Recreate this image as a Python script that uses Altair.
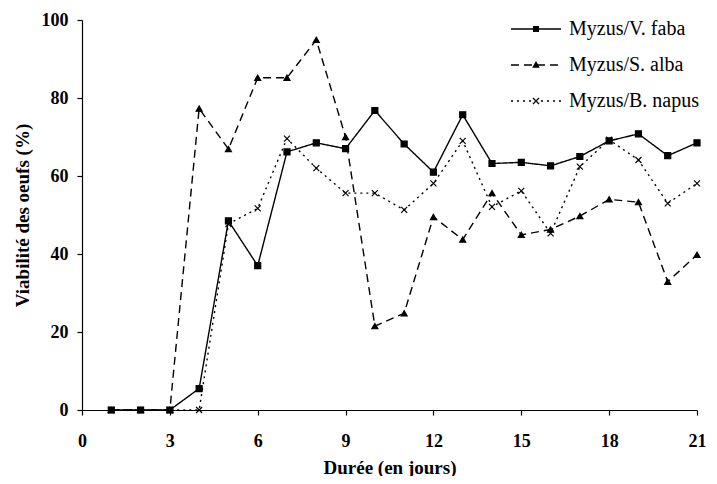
import altair as alt
import pandas as pd

days = list(range(1, 22))
series_names = ["Myzus/V. faba", "Myzus/S. alba", "Myzus/B. napus"]
marker_keys = ["m_faba", "m_alba", "m_napus"]
faba = [0, 0, 0, 5.5, 48.5, 37, 66.2, 68.5, 67, 76.8, 68.2, 61, 75.7, 63.2, 63.5, 62.6, 65, 69, 70.8, 65.2, 68.5]
alba = [0, 0, 0, 77.3, 66.9, 85.2, 85.2, 94.9, 70, 21.5, 24.8, 49.5, 43.7, 55.6, 44.9, 46.3, 49.7, 54, 53.3, 32.9, 39.8]
napus = [0, 0, 0, 0, 47.7, 51.7, 69.6, 62, 55.6, 55.6, 51.3, 58.1, 69, 52.1, 56.2, 45.3, 62.4, 69.3, 64.1, 53, 58.1]

rows = []
for name, mk, vals in zip(series_names, marker_keys, [faba, alba, napus]):
    for d, v in zip(days, vals):
        rows.append({"day": d, "value": v, "series": name, "marker": mk})
df = pd.DataFrame(rows)

FONT = "Liberation Serif, Times New Roman, Times, serif"

# legend marker symbols (drawn on top of the dash legend's lines, same layout)
LEG_FABA = "M-0.12,-0.12H0.12V0.12H-0.12Z"
LEG_ALBA = "M0,-0.16L0.15,0.11L-0.15,0.11Z"
LEG_NAPUS = ("M-0.102,-0.138L0.138,0.102L0.102,0.138L-0.138,-0.102Z"
             "M0.102,-0.138L-0.138,0.102L-0.102,0.138L0.138,-0.102Z")
MARKERS = ["square", "triangle-up", "M-1,-1L1,1M-1,1L1,-1"]

common = dict(title=None, orient="none", legendX=428, legendY=-17,
              symbolSize=2500, symbolStrokeWidth=1.3,
              labelFont=FONT, labelFontSize=20, labelFontWeight="normal",
              labelOffset=7, rowPadding=0, padding=0)

dash_legend = alt.Legend(symbolType="stroke", symbolStrokeColor="black",
                         labelColor="black", **common)
marker_legend = alt.Legend(symbolFillColor="black", symbolStrokeColor="black",
                           labelColor="transparent", **common)

x_enc = alt.X("day:Q", scale=alt.Scale(domain=[0, 21], nice=False, zero=False),
              axis=alt.Axis(values=list(range(0, 22, 3)), title="Durée (en jours)",
                            grid=False, tickSize=5, labelPadding=17, titlePadding=8,
                            labelFlush=False))
y_enc = alt.Y("value:Q", scale=alt.Scale(domain=[0, 100], nice=False),
              axis=alt.Axis(values=list(range(0, 101, 20)), title="Viabilité des oeufs (%)",
                            grid=False, tickSize=5, labelPadding=9, titlePadding=9,
                            labelFlush=False))

lines = alt.Chart(df).mark_line(color="black", strokeWidth=1.4).encode(
    x=x_enc, y=y_enc,
    strokeDash=alt.StrokeDash("series:N",
        scale=alt.Scale(domain=series_names, range=[[1, 0], [8, 5], [2, 4]]),
        legend=dash_legend),
    detail="series:N",
)

# empty layer that only supplies the legend markers
legend_layer = alt.Chart(df).transform_filter("datum.day > 1000").mark_point(
    fill="black", stroke="black", strokeWidth=1.0, opacity=1).encode(
    x="day:Q", y="value:Q",
    shape=alt.Shape("marker:N",
        scale=alt.Scale(domain=marker_keys, range=[LEG_FABA, LEG_ALBA, LEG_NAPUS]),
        legend=marker_legend),
)

point_layers = []
for name, shp in zip(series_names, MARKERS):
    point_layers.append(
        alt.Chart(df).transform_filter(alt.datum.series == name).mark_point(
            shape=shp, fill="black", stroke="black", strokeWidth=1.2, opacity=1, size=36
        ).encode(x="day:Q", y="value:Q")
    )

chart = alt.layer(lines, legend_layer, *point_layers).properties(
    width=615, height=390,
    autosize=alt.AutoSizeParams(type="none"),
    padding={"left": 74, "top": 12, "right": 12, "bottom": 66},
).configure_view(stroke=None).configure_axis(
    domainColor="black", tickColor="black", labelColor="black", titleColor="black",
    labelFont=FONT, labelFontSize=18, labelFontWeight="bold",
    titleFont=FONT, titleFontSize=19, titleFontWeight="bold",
    domainWidth=1.2, tickWidth=1.2,
)

chart.save("out.html", embed_options={"renderer": "svg", "actions": False})
